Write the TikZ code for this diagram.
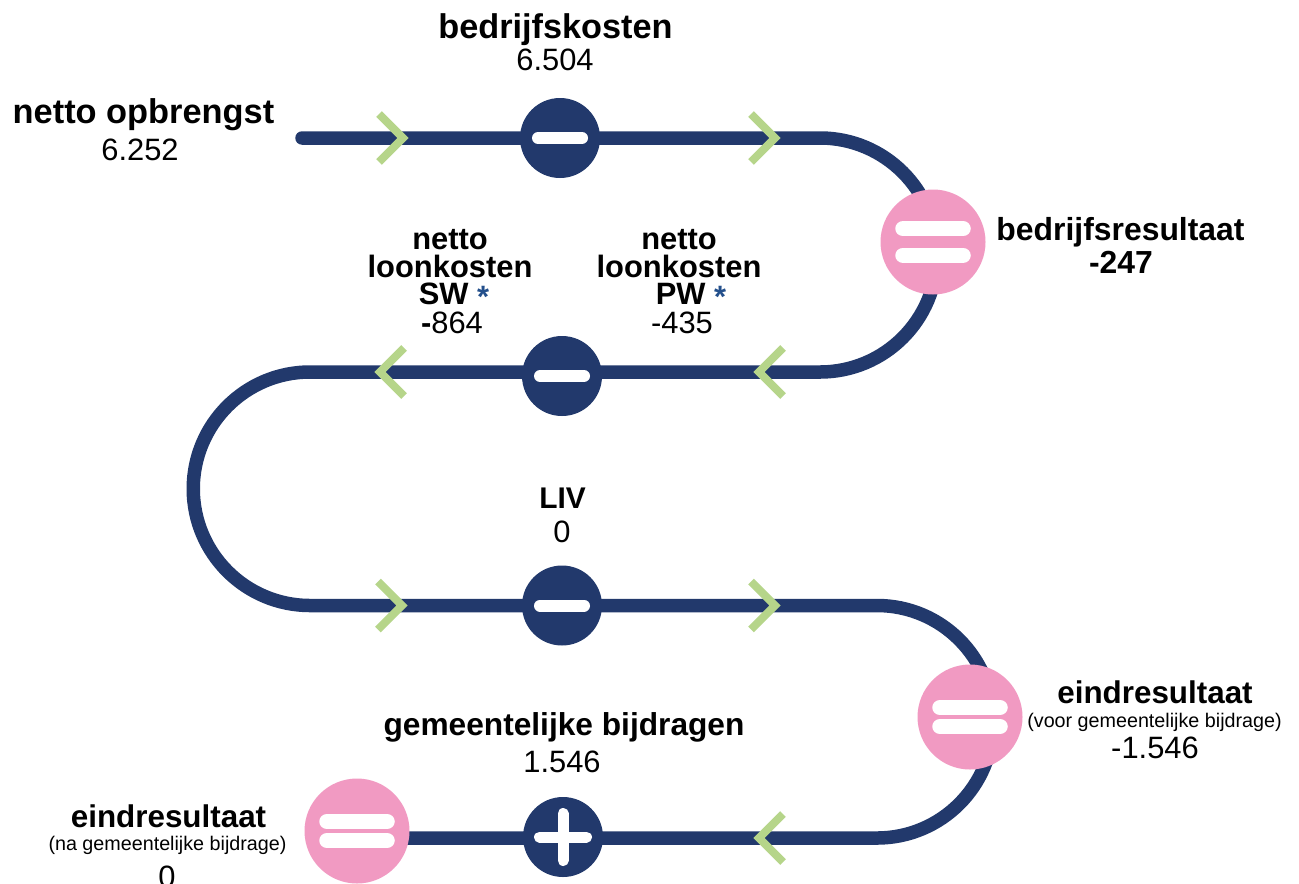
\documentclass[tikz,border=0pt]{standalone}
\usepackage{fontspec}
\setmainfont{Liberation Sans}
\usetikzlibrary{backgrounds}
\definecolor{navy}{RGB}{34,57,108}
\definecolor{pinkc}{RGB}{241,154,194}
\definecolor{greenc}{RGB}{182,213,138}
\definecolor{astblue}{RGB}{36,80,140}
\newcommand\fsz[1]{\fontsize{#1}{#1}\selectfont}
\begin{document}
\begin{tikzpicture}[x=1bp,y=-1bp,
  track/.style={navy, line width=13.5bp, line cap=round},
  chev/.style={greenc, line width=8bp, line cap=butt, line join=miter},
  chevright/.pic={\draw[chev] (-24,-24) -- (0,0) -- (-24,24);},
  chevleft/.pic={\draw[chev] (24,-24) -- (0,0) -- (24,24);},
  opnode/.style={circle, fill=navy, minimum size=80bp, inner sep=0pt},
  minusop/.style={opnode, path picture={
     \draw[white,line width=12bp,line cap=round]
       ([xshift=-22bp]path picture bounding box.center) --
       ([xshift=22bp]path picture bounding box.center);}},
  plusop/.style={opnode, path picture={
     \draw[white,line width=11bp,line cap=round]
       ([xshift=-23.5bp]path picture bounding box.center) --
       ([xshift=23.5bp]path picture bounding box.center);
     \draw[white,line width=11bp,line cap=round]
       ([yshift=-23.5bp]path picture bounding box.center) --
       ([yshift=23.5bp]path picture bounding box.center);}},
  eqop/.style={circle, fill=pinkc, minimum size=105bp, inner sep=0pt, path picture={
     \draw[white,line width=15.5bp,line cap=round]
       ([xshift=-30bp,yshift=#1]path picture bounding box.center) --
       ([xshift=30bp,yshift=#1]path picture bounding box.center);
     \draw[white,line width=15.5bp,line cap=round]
       ([xshift=-30bp,yshift=-#1]path picture bounding box.center) --
       ([xshift=30bp,yshift=-#1]path picture bounding box.center);}},
  lab/.style={anchor=base, inner sep=0pt, text=black},
]
\useasboundingbox (0,0) rectangle (1299,883);

% path coordinates
\coordinate (start) at (302,138);
\coordinate (a1) at (820,138);
\coordinate (b1) at (310,372);
\coordinate (c1) at (877,605.5);

% operator nodes
\node[minusop] (bk) at (560,138) {};
\node[eqop=13.3bp] (br) at (933,242) {};
\node[minusop] (nl) at (562,376) {};
\node[minusop] (liv) at (562,605.5) {};
\node[eqop=9.5bp] (er1) at (970,717) {};
\node[plusop] (gb) at (563,837) {};
\node[eqop=9.5bp] (er2) at (357,831) {};

% the track, behind the operators
\begin{scope}[on background layer]
\fill[white] (0,0) rectangle (1299,883);
\draw[track] (start) -- (a1)
  arc[start angle=90, end angle=-90, radius=117bp] -- (b1)
  arc[start angle=90, end angle=270, radius=116.75bp] -- (c1)
  arc[start angle=90, end angle=-90, radius=116.25bp] -- (er2.center |- 0,838);
\end{scope}

% direction chevrons
\pic at (403,138) {chevright};
\pic at (775,138) {chevright};
\pic at (380,372) {chevleft};
\pic at (759,372) {chevleft};
\pic at (402,605.5) {chevright};
\pic at (775,605.5) {chevright};
\pic at (759,838) {chevleft};

% labels
\node[lab, font={\fsz{34.5}\bfseries}] (l1a) at (143.5,123) {netto opbrengst};
\node[lab, font={\fsz{31}}] (l1b) at (140,160) {6.252};

\node[lab, font={\fsz{34.4}\bfseries}] (l2a) at (555.5,38) {bedrijfskosten};
\node[lab, font={\fsz{31}}] (l2b) at (555,70) {6.504};

\node[lab, font={\fsz{32}\bfseries}] (l3a) at (1120.5,240) {bedrijfsresultaat};
\node[lab, font={\fsz{32}\bfseries}] (l3b) at (1121,273) {-247};

\node[lab, font={\fsz{31}\bfseries}] (l4a) at (450,249) {netto};
\node[lab, font={\fsz{31}\bfseries}] (l4b) at (450,277) {loonkosten};
\node[lab, font={\fsz{31}\bfseries}] (l4c) at (454,304) {SW {\color{astblue}\raisebox{-3bp}{*}}};
\node[lab, font={\fsz{31}}] (l4d) at (452,333) {\textbf{-}864};

\node[lab, font={\fsz{31}\bfseries}] (l5a) at (679,249) {netto};
\node[lab, font={\fsz{31}\bfseries}] (l5b) at (679,277) {loonkosten};
\node[lab, font={\fsz{31}\bfseries}] (l5c) at (691,304) {PW {\color{astblue}\raisebox{-3bp}{*}}};
\node[lab, font={\fsz{31}}] (l5d) at (682,333) {-435};

\node[lab, font={\fsz{30}\bfseries}] (l6a) at (562.5,508) {LIV};
\node[lab, font={\fsz{31}}] (l6b) at (562,542) {0};

\node[lab, font={\fsz{31.5}\bfseries}] (l7a) at (1155,703) {eindresultaat};
\node[lab, font={\fsz{19.8}}] (l7b) at (1154.5,727) {(voor gemeentelijke bijdrage)};
\node[lab, font={\fsz{31}}] (l7c) at (1155,758) {-1.546};

\node[lab, font={\fsz{31.8}\bfseries}] (l8a) at (564,735) {gemeentelijke bijdragen};
\node[lab, font={\fsz{31}}] (l8b) at (562,772) {1.546};

\node[lab, font={\fsz{31.5}\bfseries}] (l9a) at (168.5,827) {eindresultaat};
\node[lab, font={\fsz{19.8}}] (l9b) at (167.5,850) {(na gemeentelijke bijdrage)};
\node[lab, font={\fsz{31}}] (l9c) at (167,887) {0};
\end{tikzpicture}
\end{document}
